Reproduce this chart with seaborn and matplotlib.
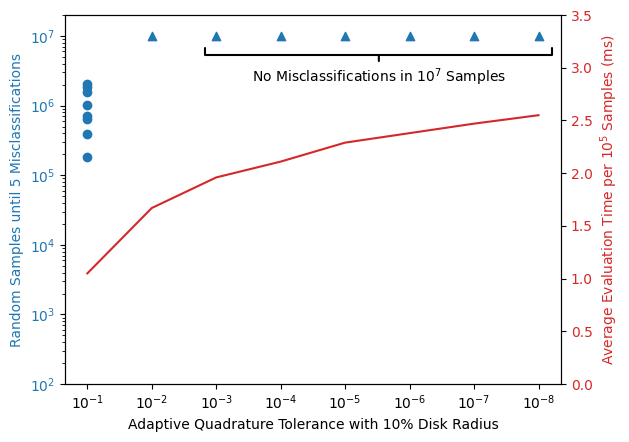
import matplotlib
matplotlib.use("Agg")
import matplotlib.pyplot as plt
import seaborn as sns
import numpy as np

# Data
tolerances = [1e-1, 1e-2, 1e-3, 1e-4, 1e-5, 1e-6, 1e-7, 1e-8]
misclass_tol = [1e-1] * 8
misclass_samples = [2.05e6, 1.85e6, 1.55e6, 1.03e6, 7.0e5, 6.5e5, 3.85e5, 1.83e5]
nomiss_tol = [1e-2, 1e-3, 1e-4, 1e-5, 1e-6, 1e-7, 1e-8]
nomiss_samples = [1e7] * 7
eval_time_ms = [1.05, 1.67, 1.96, 2.11, 2.29, 2.38, 2.47, 2.55]

blue = "tab:blue"
red = "tab:red"

fig, ax = plt.subplots(figsize=(6.29, 4.42), dpi=100)
fig.subplots_adjust(left=0.103, right=0.892, top=0.966, bottom=0.131)

ax.set_xscale("log")
ax.set_yscale("log")

sns.scatterplot(x=misclass_tol, y=misclass_samples, ax=ax, color=blue,
                marker="o", s=36, linewidth=1, edgecolor=blue, zorder=3)
sns.scatterplot(x=nomiss_tol, y=nomiss_samples, ax=ax, color=blue,
                marker="^", s=36, linewidth=1, edgecolor=blue, zorder=3)

ax.set_ylim(1e2, 2e7)
ax.invert_xaxis()
ax.set_xticks(tolerances)
ax.xaxis.set_minor_locator(matplotlib.ticker.NullLocator())
ax.set_xlabel("Adaptive Quadrature Tolerance with 10% Disk Radius")
ax.set_ylabel("Random Samples until 5 Misclassifications", color=blue)
ax.tick_params(axis="y", labelcolor=blue)

ax.annotate("No Misclassifications in $10^7$ Samples",
            xy=(3e-6, 0.899), xycoords=("data", "axes fraction"),
            xytext=(3e-6, 0.831), textcoords=("data", "axes fraction"),
            ha="center", va="center",
            arrowprops=dict(arrowstyle="-[, widthB=12.5, lengthB=0.5", lw=1.5))

ax2 = ax.twinx()
sns.lineplot(x=tolerances, y=eval_time_ms, ax=ax2, color=red)
ax2.set_ylim(0, 3.5)
ax2.set_ylabel("Average Evaluation Time per $10^5$ Samples (ms)", color=red)
ax2.tick_params(axis="y", labelcolor=red)

fig.savefig("out.png", dpi=100)
